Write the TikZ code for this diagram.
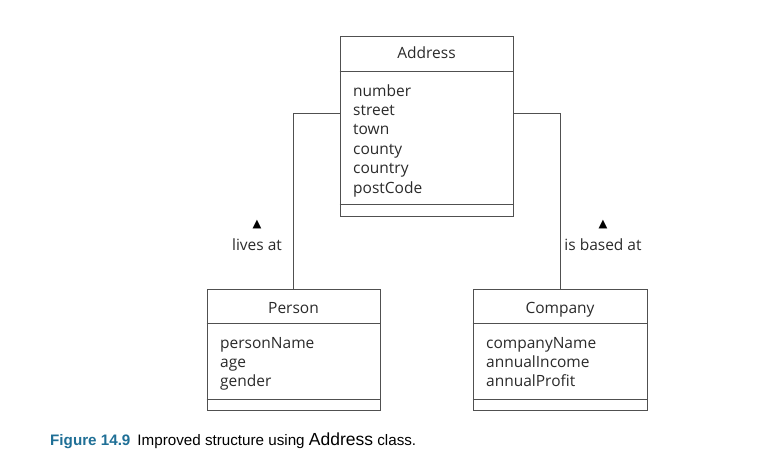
\documentclass[tikz,border=0pt]{standalone}
\usepackage{fontspec}
\setmainfont{Open Sans}
\newfontfamily\capfont{Liberation Sans}
\newfontfamily\symfont{DejaVu Sans}
\usetikzlibrary{calc}
\definecolor{boxline}{HTML}{505050}
\definecolor{figblue}{HTML}{1F6F96}
\definecolor{txt}{HTML}{2A2A2A}
\tikzset{
  classbox/.style={draw=boxline, line width=1pt, rectangle, minimum height=#1, inner sep=0pt},
  sepline/.style={draw=boxline, line width=1pt},
  conn/.style={draw=boxline, line width=1pt},
  cname/.style={font=\fontsize{15.5}{19}\selectfont, text=txt, inner sep=0pt, anchor=base},
  attr/.style={font=\fontsize{15.5}{19}\selectfont, text=txt, anchor=base west, inner sep=0pt},
  assoc/.style={font=\fontsize{15.5}{19}\selectfont, text=txt, inner sep=0pt, anchor=base},
  tri/.style={font=\symfont\fontsize{11.5}{11.5}\selectfont, text=black, inner sep=0pt},
}
\begin{document}
\begin{tikzpicture}[x=1pt,y=-1pt]
\useasboundingbox (0,0) rectangle (778,468);
% Address
\node[classbox=179pt, minimum width=173pt] (addr) at (426.5,126.5) {};
\draw[sepline] ($(addr.north west)+(0,35)$) -- ($(addr.north east)+(0,35)$);
\draw[sepline] ($(addr.south west)+(0,-12)$) -- ($(addr.south east)+(0,-12)$);
\node[cname] (addrname) at (426.5,59) {Address};
\foreach \t [count=\i] in {number,street,town,county,country,postCode}
  \node[attr] (addrattr\i) at (353,{96+(\i-1)*19.4}) {\t};
% Person
\node[classbox=121pt, minimum width=173pt] (person) at (293.5,349.5) {};
\draw[sepline] ($(person.north west)+(0,35)$) -- ($(person.north east)+(0,35)$);
\draw[sepline] ($(person.south west)+(0,-11)$) -- ($(person.south east)+(0,-11)$);
\node[cname] (personname) at (293.5,313) {Person};
\foreach \t [count=\i] in {personName,age,gender}
  \node[attr] (personattr\i) at (220,{348.5+(\i-1)*19.2}) {\t};
% Company
\node[classbox=121pt, minimum width=174pt] (company) at (560,349.5) {};
\draw[sepline] ($(company.north west)+(0,35)$) -- ($(company.north east)+(0,35)$);
\draw[sepline] ($(company.south west)+(0,-11)$) -- ($(company.south east)+(0,-11)$);
\node[cname] (companyname) at (560,313) {Company};
\foreach \t [count=\i] in {companyName,annualIncome,annualProfit}
  \node[attr] (companyattr\i) at (486,{348.5+(\i-1)*19.2}) {\t};
% Connectors
\draw[conn] ($(addr.north west)+(0,77)$) -| (person.north);
\draw[conn] ($(addr.north east)+(0,77)$) -| (company.north);
% Association labels
\node[tri] (tril) at (257,224.5) {▲};
\node[assoc] (livesat) at (257,250) {lives at};
\node[tri] (trir) at (603,224.5) {▲};
\node[assoc] (basedat) at (603,250) {is based at};
% Caption
\node[anchor=base west, inner sep=0pt, font=\capfont\fontsize{15.2}{17}\selectfont] (caption) at (50,445)
  {\textcolor{figblue}{\bfseries Figure 14.9}\hspace{7pt}Improved structure using {\fontsize{17.5}{17}\selectfont Address} class.};
\end{tikzpicture}
\end{document}
